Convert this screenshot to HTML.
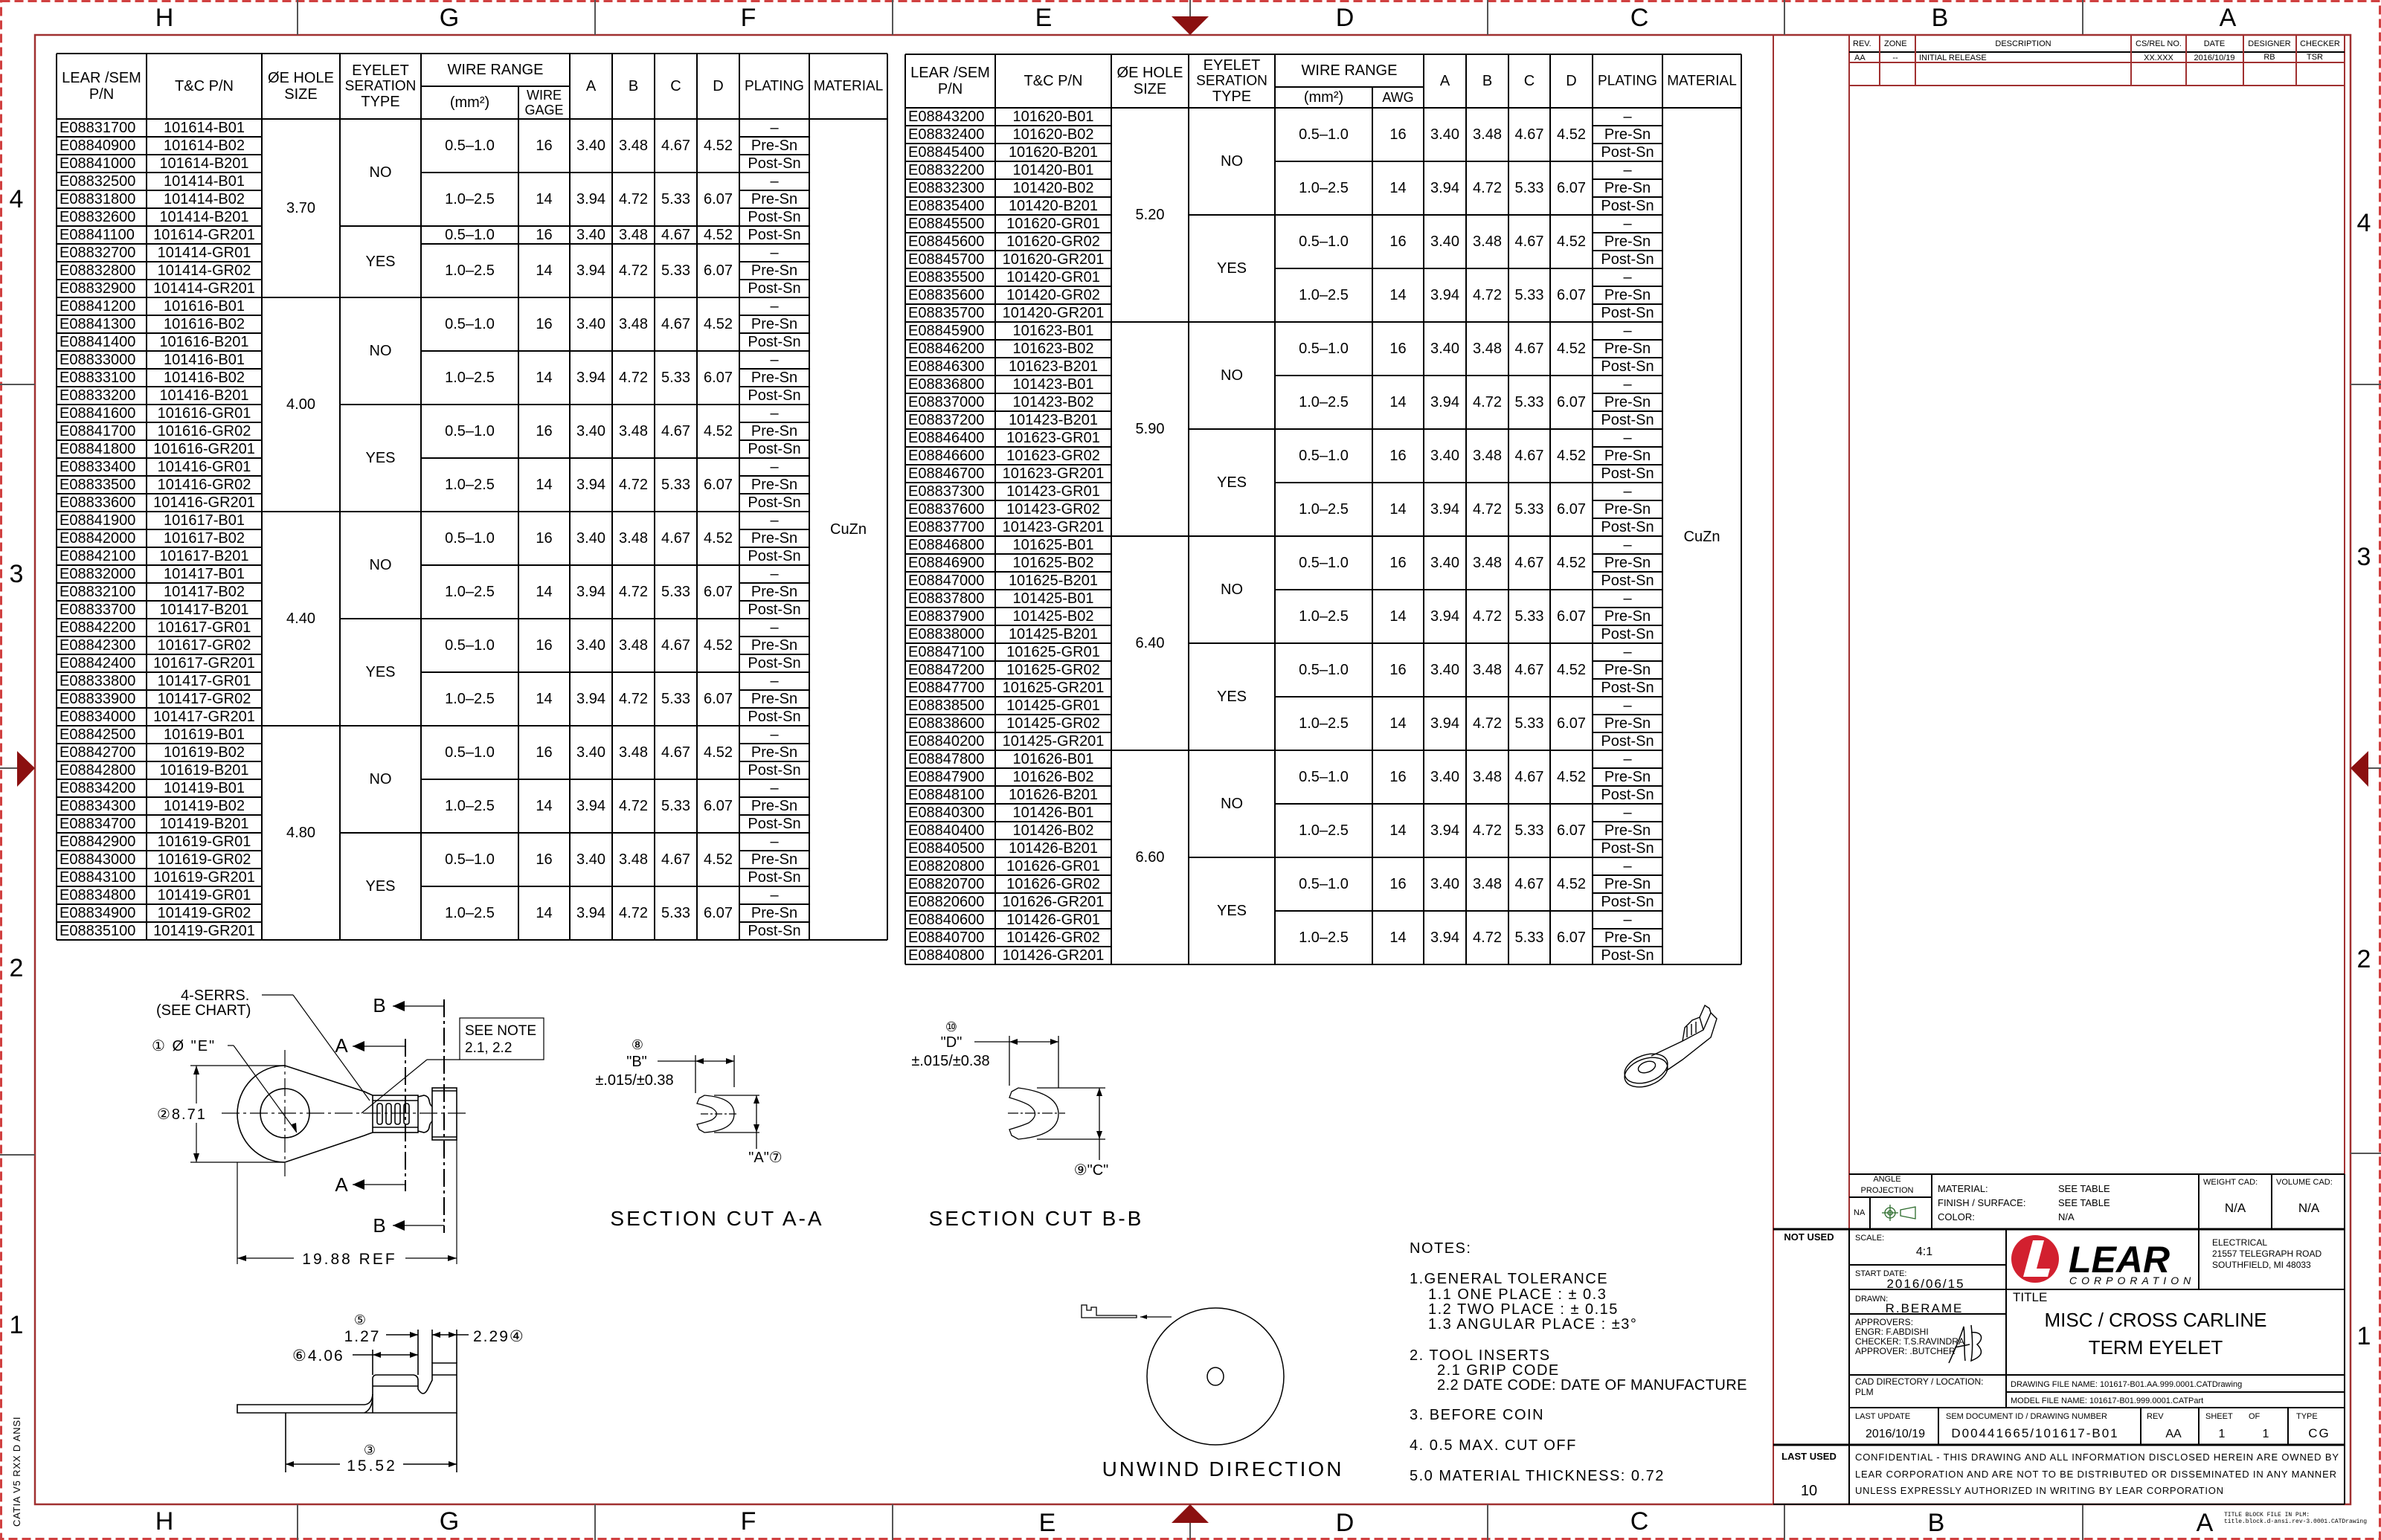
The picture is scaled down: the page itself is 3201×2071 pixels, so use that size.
<!DOCTYPE html>
<html><head><meta charset="utf-8"><style>
html,body{margin:0;padding:0;background:#fff}
svg{display:block}
text{font-family:"Liberation Sans",sans-serif;fill:#000}
.t{font-size:20px}
.c{text-anchor:middle}
.m{dominant-baseline:central}
.z{font-size:34px;text-anchor:middle;dominant-baseline:central}
.s{font-size:11px}
.tb{font-size:13px}
</style></head><body>
<svg id="sv" width="3201" height="2071" viewBox="0 0 3201 2071" xmlns="http://www.w3.org/2000/svg">
<!-- outer dashed border -->
<rect x="1.5" y="1.5" width="3198" height="2068" fill="none" stroke="#d04040" stroke-width="3" stroke-dasharray="12,6"/>
<!-- inner border -->
<rect x="47" y="47" width="3113" height="1976" fill="none" stroke="#a03030" stroke-width="2.5"/>
<g stroke="#555" stroke-width="2">
<line x1="400" y1="0" x2="400" y2="47"/><line x1="800" y1="0" x2="800" y2="47"/><line x1="1200" y1="0" x2="1200" y2="47"/><line x1="1600" y1="0" x2="1600" y2="47"/><line x1="2000" y1="0" x2="2000" y2="47"/><line x1="2399" y1="0" x2="2399" y2="47"/><line x1="2800" y1="0" x2="2800" y2="47"/>
<line x1="400" y1="2023" x2="400" y2="2071"/><line x1="800" y1="2023" x2="800" y2="2071"/><line x1="1200" y1="2023" x2="1200" y2="2071"/><line x1="1600" y1="2023" x2="1600" y2="2071"/><line x1="2000" y1="2023" x2="2000" y2="2071"/><line x1="2399" y1="2023" x2="2399" y2="2071"/><line x1="2800" y1="2023" x2="2800" y2="2071"/>
<line x1="0" y1="517" x2="47" y2="517"/><line x1="0" y1="1553" x2="47" y2="1553"/><line x1="0" y1="1033" x2="47" y2="1033"/>
<line x1="3160" y1="517" x2="3201" y2="517"/><line x1="3160" y1="1551" x2="3201" y2="1551"/><line x1="3160" y1="1033" x2="3201" y2="1033"/>
</g>
<polygon points="1575,22 1625,22 1600,47" fill="#8b1010"/>
<polygon points="1575,2048 1625,2048 1600,2023" fill="#8b1010"/>
<polygon points="23,1010 23,1058 47,1033" fill="#8b1010"/>
<polygon points="3184,1010 3184,1058 3160,1033" fill="#8b1010"/>
<g>
<text class="z" x="221" y="24">H</text><text class="z" x="604" y="24">G</text><text class="z" x="1006" y="24">F</text><text class="z" x="1403" y="24">E</text><text class="z" x="1808" y="24">D</text><text class="z" x="2204" y="24">C</text><text class="z" x="2608" y="24">B</text><text class="z" x="2995" y="24">A</text>
<text class="z" x="221" y="2046">H</text><text class="z" x="604" y="2046">G</text><text class="z" x="1006" y="2046">F</text><text class="z" x="1408" y="2048">E</text><text class="z" x="1808" y="2048">D</text><text class="z" x="2204" y="2046">C</text><text class="z" x="2603" y="2048">B</text><text class="z" x="2964" y="2048">A</text>
<text class="z" x="22" y="268">4</text><text class="z" x="22" y="772">3</text><text class="z" x="22" y="1302">2</text><text class="z" x="22" y="1782">1</text>
<text class="z" x="3178" y="300">4</text><text class="z" x="3178" y="749">3</text><text class="z" x="3178" y="1290">2</text><text class="z" x="3178" y="1797">1</text>
</g>
<text x="0" y="0" transform="translate(27,2053) rotate(-90)" style="font-size:13px;letter-spacing:2.5px" textLength="150">CATIA V5 RXX D ANSI</text>

<g id="tables"></g>

<!-- title column -->
<g stroke="#a03030" stroke-width="2" fill="none">
<line x1="2384" y1="47" x2="2384" y2="2023"/>
<rect x="2486" y="47" width="666" height="1976"/>
<line x1="2486" y1="70" x2="3152" y2="70" stroke="#000"/>
<line x1="2486" y1="84" x2="3152" y2="84"/>
<line x1="2486" y1="115" x2="3152" y2="115"/>
<line x1="2527" y1="47" x2="2527" y2="115"/><line x1="2575" y1="47" x2="2575" y2="115"/><line x1="2865" y1="47" x2="2865" y2="115"/><line x1="2939" y1="47" x2="2939" y2="115"/><line x1="3016" y1="47" x2="3016" y2="115"/><line x1="3087" y1="47" x2="3087" y2="115"/>
</g>
<g style="font-family:'Liberation Mono',monospace;font-size:11px">
<text x="2491" y="62">REV.</text><text x="2533" y="62">ZONE</text><text x="2720" y="62" class="c">DESCRIPTION</text><text x="2902" y="62" class="c">CS/REL NO.</text><text x="2977" y="62" class="c">DATE</text><text x="3051" y="62" class="c">DESIGNER</text><text x="3119" y="62" class="c">CHECKER</text>
<text x="2493" y="81">AA</text><text x="2548" y="81" class="c">--</text><text x="2580" y="81">INITIAL RELEASE</text><text x="2902" y="81" class="c">XX.XXX</text><text x="2977" y="81" class="c">2016/10/19</text><text x="3051" y="80" class="c">RB</text><text x="3112" y="80" class="c">TSR</text>
</g>
<!-- title block -->
<g stroke="#000" stroke-width="2" fill="none">
<line x1="2486" y1="1579" x2="3152" y2="1579"/>
<line x1="2384" y1="1653" x2="3152" y2="1653" stroke-width="3"/>
<line x1="2597" y1="1579" x2="2597" y2="1653"/>
<line x1="2486" y1="1610" x2="2597" y2="1610"/>
<line x1="2514" y1="1610" x2="2514" y2="1653"/>
<line x1="2956" y1="1579" x2="2956" y2="1653"/><line x1="3054" y1="1579" x2="3054" y2="1653"/>
<line x1="2697" y1="1653" x2="2697" y2="1893"/>
<line x1="2486" y1="1701" x2="2697" y2="1701"/>
<line x1="2486" y1="1734" x2="3152" y2="1734"/>
<line x1="2486" y1="1767" x2="2697" y2="1767"/>
<line x1="2956" y1="1653" x2="2956" y2="1734"/>
<line x1="2486" y1="1849" x2="3152" y2="1849"/>
<line x1="2697" y1="1872" x2="3152" y2="1872"/>
<line x1="2486" y1="1893" x2="3152" y2="1893"/>
<line x1="2384" y1="1943" x2="3152" y2="1943" stroke-width="3"/>
<line x1="2606" y1="1893" x2="2606" y2="1943"/><line x1="2878" y1="1893" x2="2878" y2="1943"/><line x1="2956" y1="1893" x2="2956" y2="1943"/><line x1="3076" y1="1893" x2="3076" y2="1943"/>
<line x1="2486" y1="1653" x2="2486" y2="2023"/><line x1="3152" y1="1579" x2="3152" y2="2023"/>
<line x1="2384" y1="2023" x2="3152" y2="2023"/>
</g>
<g class="s">
<text x="2537" y="1589" class="c">ANGLE</text><text x="2537" y="1604" class="c">PROJECTION</text>
<text x="2492" y="1634">NA</text>
<text x="2605" y="1603" style="font-size:13px">MATERIAL:</text><text x="2605" y="1622" style="font-size:13px">FINISH / SURFACE:</text><text x="2605" y="1641" style="font-size:13px">COLOR:</text>
<text x="2767" y="1603" style="font-size:13px">SEE TABLE</text><text x="2767" y="1622" style="font-size:13px">SEE TABLE</text><text x="2767" y="1641" style="font-size:13px">N/A</text>
<text x="2962" y="1593">WEIGHT CAD:</text><text x="3060" y="1593">VOLUME CAD:</text>
<text x="3005" y="1630" class="c" style="font-size:17px">N/A</text><text x="3104" y="1630" class="c" style="font-size:17px">N/A</text>
<text x="2432" y="1668" class="c" style="font-size:13px;font-weight:bold">NOT USED</text>
<text x="2494" y="1668">SCALE:</text><text x="2587" y="1688" class="c" style="font-size:16px">4:1</text>
<text x="2494" y="1716">START DATE:</text><text x="2589" y="1732" class="c" style="font-size:17px;letter-spacing:2px">2016/06/15</text>
<text x="2494" y="1750">DRAWN:</text><text x="2587" y="1765" class="c" style="font-size:17px;letter-spacing:2px">R.BERAME</text>
<text x="2494" y="1782" style="font-size:12px">APPROVERS:</text><text x="2494" y="1795" style="font-size:12px">ENGR: F.ABDISHI</text><text x="2494" y="1808" style="font-size:12px">CHECKER: T.S.RAVINDRA</text><text x="2494" y="1821" style="font-size:12px">APPROVER: .BUTCHER</text>
<text x="2494" y="1862" style="font-size:12px">CAD DIRECTORY / LOCATION:</text><text x="2494" y="1876" style="font-size:12px">PLM</text>
<text x="2703" y="1865">DRAWING FILE NAME: 101617-B01.AA.999.0001.CATDrawing</text>
<text x="2703" y="1887">MODEL FILE NAME: 101617-B01.999.0001.CATPart</text>
<text x="2706" y="1750" style="font-size:17px">TITLE</text>
<text x="2898" y="1784" class="c" style="font-size:26px">MISC / CROSS CARLINE</text>
<text x="2898" y="1821" class="c" style="font-size:26px">TERM EYELET</text>
<text x="2974" y="1675" style="font-size:12px">ELECTRICAL</text><text x="2974" y="1690" style="font-size:12px">21557 TELEGRAPH ROAD</text><text x="2974" y="1705" style="font-size:12px">SOUTHFIELD, MI  48033</text>
<text x="2494" y="1908">LAST UPDATE</text><text x="2548" y="1933" class="c" style="font-size:16px">2016/10/19</text>
<text x="2616" y="1908">SEM DOCUMENT ID / DRAWING NUMBER</text><text x="2736" y="1933" class="c" style="font-size:17px;letter-spacing:2px">D00441665/101617-B01</text>
<text x="2886" y="1908">REV</text><text x="2922" y="1933" class="c" style="font-size:16px">AA</text>
<text x="2965" y="1908">SHEET</text><text x="3023" y="1908">OF</text><text x="2987" y="1933" class="c" style="font-size:16px">1</text><text x="3046" y="1933" class="c" style="font-size:16px">1</text>
<text x="3087" y="1908">TYPE</text><text x="3118" y="1933" class="c" style="font-size:17px;letter-spacing:2px">CG</text>
<text x="2432" y="1963" class="c" style="font-size:13px;font-weight:bold">LAST USED</text>
<text x="2432" y="2011" class="c" style="font-size:20px">10</text>
<text x="2494" y="1964" style="font-size:13px" textLength="650">CONFIDENTIAL - THIS DRAWING AND ALL INFORMATION DISCLOSED HEREIN ARE OWNED BY</text>
<text x="2494" y="1987" style="font-size:13px" textLength="647">LEAR CORPORATION AND ARE NOT TO BE DISTRIBUTED OR DISSEMINATED IN ANY MANNER</text>
<text x="2494" y="2009" style="font-size:13px" textLength="495">UNLESS EXPRESSLY AUTHORIZED IN WRITING BY LEAR CORPORATION</text>
<text x="2990" y="2039" style="font-family:'Liberation Mono',monospace;font-size:8px">TITLE BLOCK FILE IN PLM:</text>
<text x="2990" y="2048" style="font-family:'Liberation Mono',monospace;font-size:8px">title.block.d-ansi.rev-3.0001.CATDrawing</text>
</g>
<!-- projection symbol -->
<g stroke="#2a6a2a" fill="none" stroke-width="1.3">
<circle cx="2541" cy="1631" r="7"/><circle cx="2541" cy="1631" r="3"/><line x1="2530" y1="1631" x2="2552" y2="1631"/><line x1="2541" y1="1620" x2="2541" y2="1642"/>
<polygon points="2555,1627 2575,1623 2575,1639 2555,1635"/>
</g>
<!-- LEAR logo -->
<circle cx="2736" cy="1693" r="32" fill="#d2202f"/>
<polygon points="2733,1668 2748,1668 2738,1706 2756,1706 2753,1717 2720,1717" fill="#fff"/>
<text x="2781" y="1711" style="font-size:50px;font-weight:bold;font-style:italic">LEAR</text>
<text x="2782" y="1727" style="font-size:14px;font-style:italic;letter-spacing:6px">CORPORATION</text>
<path d="M2620,1833 C2628,1815 2636,1798 2640,1784 C2642,1800 2640,1815 2642,1830 M2628,1812 L2648,1808 M2650,1782 C2652,1800 2652,1818 2650,1830 C2660,1826 2670,1820 2658,1808 C2668,1800 2664,1790 2650,1792" fill="none" stroke="#000" stroke-width="1.5"/>

<!-- eyelet top view -->
<g fill="none" stroke="#000" stroke-width="1.6">
<path d="M501,1473 Q494,1470 490,1468 L383,1433 A64,65 0 0 0 383,1563 L490,1527 Q495,1525 501,1523"/>
<circle cx="383" cy="1497" r="33"/>
<rect x="501" y="1473" width="61" height="50"/>
<line x1="501" y1="1480" x2="562" y2="1480"/><line x1="501" y1="1516" x2="562" y2="1516"/>
<rect x="507" y="1484" width="7" height="28" rx="3"/><rect x="519" y="1484" width="7" height="28" rx="3"/><rect x="531" y="1484" width="7" height="28" rx="3"/><rect x="543" y="1484" width="7" height="28" rx="3"/>
<path d="M562,1475 L570,1473 Q576,1474 577,1480 Q578,1486 581,1488"/>
<path d="M562,1521 L570,1523 Q576,1522 577,1516 Q578,1510 581,1508"/>
<rect x="581" y="1463" width="33" height="70"/>
<line x1="581" y1="1467" x2="614" y2="1467"/><line x1="581" y1="1529" x2="614" y2="1529"/>
</g>
<g fill="none" stroke="#000" stroke-width="1.2">
<line x1="298" y1="1497" x2="631" y2="1497" stroke-dasharray="24,5,4,5"/>
<line x1="383" y1="1412" x2="383" y2="1582" stroke-dasharray="24,5,4,5"/>
<line x1="545" y1="1397" x2="545" y2="1602" stroke-dasharray="24,5,4,5" stroke-width="2"/>
<line x1="597" y1="1344" x2="597" y2="1658" stroke-dasharray="24,5,4,5" stroke-width="2"/>
<line x1="528" y1="1353" x2="597" y2="1353"/><line x1="474" y1="1407" x2="545" y2="1407"/><line x1="474" y1="1593" x2="545" y2="1593"/><line x1="528" y1="1648" x2="597" y2="1648"/>
<line x1="256" y1="1433" x2="383" y2="1433"/><line x1="256" y1="1563" x2="383" y2="1563"/>
<line x1="264" y1="1433" x2="264" y2="1484"/><line x1="264" y1="1510" x2="264" y2="1563"/>
<line x1="306" y1="1406" x2="314" y2="1406"/><line x1="314" y1="1406" x2="399" y2="1523"/>
<line x1="352" y1="1338" x2="394" y2="1338"/><line x1="394" y1="1338" x2="497" y2="1480"/>
<rect x="618" y="1369" width="113" height="56"/>
<line x1="618" y1="1425" x2="574" y2="1425"/><line x1="574" y1="1425" x2="486" y2="1497"/>
<line x1="319" y1="1563" x2="319" y2="1700"/><line x1="614" y1="1533" x2="614" y2="1700"/>
<line x1="319" y1="1692" x2="395" y2="1692"/><line x1="545" y1="1692" x2="614" y2="1692"/>
</g>
<g fill="#000">
<polygon points="528,1346 528,1360 512,1353" transform="translate(16,0)"/>
<polygon points="474,1400 474,1414 458,1407" transform="translate(16,0)"/>
<polygon points="474,1586 474,1600 458,1593" transform="translate(16,0)"/>
<polygon points="528,1641 528,1655 512,1648" transform="translate(16,0)"/>
<polygon points="264,1433 260,1445 268,1445"/><polygon points="264,1563 260,1551 268,1551"/>
<polygon points="319,1692 331,1688 331,1696"/><polygon points="614,1692 602,1688 602,1696"/>
<polygon points="399,1523 392,1512 398,1510"/>
</g>
<g class="t" style="font-size:22px">
<text x="510" y="1361" class="c" style="font-size:26px">B</text><text x="459" y="1415" class="c" style="font-size:26px">A</text><text x="459" y="1602" class="c" style="font-size:26px">A</text><text x="510" y="1657" class="c" style="font-size:26px">B</text>
<text x="243" y="1345" style="font-size:20px">4-SERRS.</text><text x="210" y="1365" style="font-size:20px">(SEE CHART)</text>
<text x="204" y="1413" style="font-size:20px;letter-spacing:2px">① Ø "E"</text>
<text x="211" y="1505" style="font-size:20px;letter-spacing:2px">②8.71</text>
<text x="625" y="1392" style="font-size:19px">SEE NOTE</text><text x="625" y="1415" style="font-size:19px">2.1, 2.2</text>
<text x="470" y="1700" class="c" style="font-size:21px;letter-spacing:3px">19.88 REF</text>
</g>

<!-- section A-A -->
<g fill="none" stroke="#000" stroke-width="1.3">
<path d="M940,1477 L947,1473 Q987,1476 987,1498 Q987,1520 947,1523 L940,1519 L937,1512 Q950,1509 957,1506 Q970,1498 957,1490 Q950,1487 937,1484 Z"/>
<line x1="942" y1="1498" x2="992" y2="1498" stroke-dasharray="10,3,3,3"/>
<line x1="935" y1="1419" x2="935" y2="1470"/><line x1="987" y1="1419" x2="987" y2="1462"/>
<line x1="884" y1="1427" x2="987" y2="1427"/>
<line x1="960" y1="1473" x2="1021" y2="1473"/><line x1="960" y1="1523" x2="1021" y2="1523"/>
<line x1="1017" y1="1473" x2="1017" y2="1545"/>
</g>
<g fill="#000"><polygon points="935,1427 946,1423 946,1431"/><polygon points="987,1427 976,1423 976,1431"/><polygon points="1017,1473 1013,1484 1021,1484"/><polygon points="1017,1523 1013,1512 1021,1512"/></g>
<text x="857" y="1411" class="c" style="font-size:18px">⑧</text>
<text x="856" y="1434" class="c" style="font-size:20px">"B"</text>
<text x="853" y="1459" class="c" style="font-size:20px">±.015/±0.38</text>
<text x="1029" y="1563" class="c" style="font-size:20px">"A"⑦</text>
<text x="964" y="1648" class="c" style="font-size:28px;letter-spacing:3px">SECTION CUT A-A</text>

<!-- section B-B -->
<g fill="none" stroke="#000" stroke-width="1.3">
<path d="M1360,1468 L1369,1463 Q1423,1470 1423,1498 Q1423,1527 1369,1532 L1360,1527 L1357,1519 Q1374,1514 1383,1510 Q1400,1498 1383,1486 Q1374,1481 1357,1476 Z"/>
<line x1="1355" y1="1497" x2="1432" y2="1497" stroke-dasharray="14,3,3,3"/>
<line x1="1357" y1="1393" x2="1357" y2="1460"/><line x1="1423" y1="1393" x2="1423" y2="1463"/>
<line x1="1310" y1="1401" x2="1423" y2="1401"/>
<line x1="1394" y1="1463" x2="1486" y2="1463"/><line x1="1394" y1="1532" x2="1486" y2="1532"/>
<line x1="1478" y1="1463" x2="1478" y2="1560"/>
</g>
<g fill="#000"><polygon points="1357,1401 1368,1397 1368,1405"/><polygon points="1423,1401 1412,1397 1412,1405"/><polygon points="1478,1463 1474,1474 1482,1474"/><polygon points="1478,1532 1474,1521 1482,1521"/></g>
<text x="1279" y="1387" class="c" style="font-size:18px">⑩</text>
<text x="1279" y="1408" class="c" style="font-size:20px">"D"</text>
<text x="1278" y="1433" class="c" style="font-size:20px">±.015/±0.38</text>
<text x="1467" y="1580" class="c" style="font-size:20px">⑨"C"</text>
<text x="1393" y="1648" class="c" style="font-size:28px;letter-spacing:3px">SECTION CUT B-B</text>

<!-- isometric -->
<g fill="none" stroke="#000" stroke-width="1.4">
<ellipse cx="2213" cy="1437" rx="30" ry="18" transform="rotate(-20 2213 1437)"/>
<ellipse cx="2213" cy="1442" rx="30" ry="18" transform="rotate(-20 2213 1442)"/>
<ellipse cx="2214" cy="1435" rx="12" ry="7" transform="rotate(-20 2214 1435)"/>
<path d="M2220,1420 L2262,1400 L2290,1385 L2300,1362 L2308,1370 L2300,1395 L2262,1425 L2240,1440"/>
<path d="M2262,1400 L2265,1382 L2275,1372 L2285,1368 L2290,1385"/>
<path d="M2268,1395 L2268,1380 M2274,1392 L2274,1377 M2280,1389 L2280,1374"/>
<path d="M2285,1368 L2292,1352 L2298,1356 L2300,1362"/>
</g>

<!-- side view -->
<g fill="none" stroke="#000" stroke-width="1.6">
<path d="M319,1889 L490,1889 Q500,1888 501,1875 L501,1853 Q502,1849 506,1849 L556,1849 Q562,1850 562,1856 L562,1868 Q569,1880 575,1868 L581,1856 L581,1833 L614,1833 L614,1900 L319,1900 Z"/>
<line x1="501" y1="1864" x2="562" y2="1864"/><line x1="581" y1="1849" x2="614" y2="1849"/>
<line x1="501" y1="1875" x2="501" y2="1900"/>
<path d="M490,1900 Q500,1895 501,1880"/>
<line x1="562" y1="1788" x2="562" y2="1849"/><line x1="581" y1="1788" x2="581" y2="1833"/><line x1="614" y1="1788" x2="614" y2="1833"/>
<line x1="501" y1="1815" x2="501" y2="1849"/>
<line x1="519" y1="1795" x2="562" y2="1795"/><line x1="581" y1="1795" x2="630" y2="1795"/>
<line x1="474" y1="1822" x2="562" y2="1822"/>
<line x1="384" y1="1900" x2="384" y2="1980"/><line x1="614" y1="1900" x2="614" y2="1980"/>
<line x1="384" y1="1969" x2="457" y2="1969"/><line x1="542" y1="1969" x2="614" y2="1969"/>
</g>
<g fill="#000"><polygon points="562,1795 551,1791 551,1799"/><polygon points="581,1795 592,1791 592,1799"/><polygon points="614,1795 603,1791 603,1799"/><polygon points="501,1822 512,1818 512,1826"/><polygon points="562,1822 551,1818 551,1826"/><polygon points="384,1969 395,1965 395,1973"/><polygon points="614,1969 603,1965 603,1973"/></g>
<text x="484" y="1781" class="c" style="font-size:18px">⑤</text>
<text x="487" y="1804" class="c" style="font-size:21px;letter-spacing:2px">1.27</text>
<text x="636" y="1804" style="font-size:21px;letter-spacing:2px">2.29④</text>
<text x="393" y="1830" style="font-size:21px;letter-spacing:2px">⑥4.06</text>
<text x="497" y="1956" class="c" style="font-size:18px">③</text>
<text x="500" y="1978" class="c" style="font-size:21px;letter-spacing:3px">15.52</text>

<!-- unwind -->
<circle cx="1634" cy="1851" r="92" fill="none" stroke="#000" stroke-width="1.5"/>
<ellipse cx="1634" cy="1851" rx="11" ry="12" fill="none" stroke="#000" stroke-width="1.5"/>
<g fill="none" stroke="#000" stroke-width="1.3">
<path d="M1454,1772 L1454,1755 L1461,1755 L1461,1762 L1467,1762 L1467,1758 L1474,1758 L1474,1769 L1528,1769 L1528,1772 Z"/>
<line x1="1533" y1="1771" x2="1575" y2="1771"/>
</g>
<polygon points="1533,1771 1542,1768 1542,1774" fill="#000"/>
<text x="1644" y="1985" class="c" style="font-size:28px;letter-spacing:3px">UNWIND DIRECTION</text>
<g style="font-size:20px;letter-spacing:1.5px">
<text x="1895" y="1685">NOTES:</text>
<text x="1895" y="1726">1.GENERAL TOLERANCE</text>
<text x="1920" y="1747">1.1 ONE PLACE : ± 0.3</text>
<text x="1920" y="1767">1.2 TWO PLACE : ± 0.15</text>
<text x="1920" y="1787">1.3 ANGULAR PLACE : ±3°</text>
<text x="1895" y="1829">2. TOOL INSERTS</text>
<text x="1932" y="1849">2.1 GRIP CODE</text>
<text x="1932" y="1869" textLength="418">2.2 DATE CODE: DATE OF MANUFACTURE</text>
<text x="1895" y="1909">3. BEFORE COIN</text>
<text x="1895" y="1950">4. 0.5 MAX. CUT OFF</text>
<text x="1895" y="1991">5.0 MATERIAL THICKNESS: 0.72</text>
</g>
</svg>
<script>
(function(){
var NS="http://www.w3.org/2000/svg",G=document.getElementById("tables");
function L(x1,y1,x2,y2){var e=document.createElementNS(NS,"line");e.setAttribute("x1",x1);e.setAttribute("y1",y1);e.setAttribute("x2",x2);e.setAttribute("y2",y2);e.setAttribute("stroke","#000");e.setAttribute("stroke-width","2");G.appendChild(e);}
function T(x,y,s,anchor,fs){var e=document.createElementNS(NS,"text");e.setAttribute("x",x);e.setAttribute("y",y);e.setAttribute("class","t m"+(anchor?" c":""));if(fs)e.setAttribute("style","font-size:"+fs+"px");e.textContent=s;G.appendChild(e);}
var P=["–","Pre-Sn","Post-Sn"];
var D16=["0.5–1.0","16","3.40","3.48","4.67","4.52"],D14=["1.0–2.5","14","3.94","4.72","5.33","6.07"];
function build(X,top,sub,hb,rh,gage,groups,matY){
 var nrows=0;groups.forEach(function(g){g.e.forEach(function(e){e.w.forEach(function(w){nrows+=w.r.length;});});});
 var bot=hb+nrows*rh;
 L(X[0],top,X[12],top);L(X[0],hb,X[12],hb);L(X[0],bot,X[12],bot);
 for(var i=0;i<13;i++){ if(i==5){L(X[5],sub,X[5],bot);} else L(X[i],top,X[i],bot);}
 L(X[4],sub,X[6],sub);
 var cx=function(i){return (X[i]+X[i+1])/2;};
 var hm=(top+hb)/2;
 T(cx(0),hm-11,"LEAR /SEM",1);T(cx(0),hm+11,"P/N",1);
 T(cx(1),hm,"T&C P/N",1);
 T(cx(2),hm-11,"ØE HOLE",1);T(cx(2),hm+11,"SIZE",1);
 T(cx(3),hm-21,"EYELET",1);T(cx(3),hm,"SERATION",1,19);T(cx(3),hm+21,"TYPE",1);
 T((X[4]+X[6])/2,(top+sub)/2,"WIRE RANGE",1);
 T(cx(4),(sub+hb)/2,"(mm²)",1);
 if(gage){T(cx(5),(sub+hb)/2-10,"WIRE",1,18);T(cx(5),(sub+hb)/2+10,"GAGE",1,18);} else T(cx(5),(sub+hb)/2,"AWG",1,18);
 ["A","B","C","D"].forEach(function(s,k){T(cx(6+k),hm,s,1);});
 T(cx(10),hm,"PLATING",1,19);T(cx(11),hm,"MATERIAL",1,19);
 var y=hb;
 groups.forEach(function(g,gi){
  var gy=y;
  g.e.forEach(function(e,ei){
   var ey=y;
   e.w.forEach(function(w,wi){
    var wy=y;
    w.r.forEach(function(r,ri){
     T(X[0]+4,y+rh/2,r[0]);T(cx(1),y+rh/2,r[1],1);T(cx(10),y+rh/2,P[r[2]],1);
     y+=rh;
     if(y<bot){
      var lvl = (ri<w.r.length-1)?0:(wi<e.w.length-1)?1:(ei<g.e.length-1)?2:3;
      L(X[0],y,X[2],y);
      var xs = lvl==3?X[2]:lvl==2?X[3]:lvl==1?X[4]:X[10];
      L(xs,y,X[11],y);
     }
    });
    var d=w.d,m=(wy+y)/2;
    T(cx(4),m,d[0],1);T(cx(5),m,d[1],1);for(var k=0;k<4;k++)T(cx(6+k),m,d[2+k],1);
   });
   T(cx(3),(ey+y)/2,e.n,1);
  });
  T(cx(2),(gy+y)/2,g.h,1);
 });
 T(cx(11),matY,"CuZn",1);
}
function grp(h,a,b){ // a: prefix numbers 6-digit T&C base (16xx) ; b: lear list 12
 return h;
}
function std(h,t1,t2,le){
 var s=["-B01","-B02","-B201"],gs=["-GR01","-GR02","-GR201"];
 function rows(base,suf,off){return suf.map(function(x,i){return [le[off+i],base+x,i];});}
 return {h:h,e:[
  {n:"NO",w:[{d:D16,r:rows(t1,s,0)},{d:D14,r:rows(t2,s,3)}]},
  {n:"YES",w:[{d:D16,r:rows(t1,gs,6)},{d:D14,r:rows(t2,gs,9)}]}]};
}
var left=[
 {h:"3.70",e:[
  {n:"NO",w:[{d:D16,r:[["E08831700","101614-B01",0],["E08840900","101614-B02",1],["E08841000","101614-B201",2]]},
             {d:D14,r:[["E08832500","101414-B01",0],["E08831800","101414-B02",1],["E08832600","101414-B201",2]]}]},
  {n:"YES",w:[{d:D16,r:[["E08841100","101614-GR201",2]]},
              {d:D14,r:[["E08832700","101414-GR01",0],["E08832800","101414-GR02",1],["E08832900","101414-GR201",2]]}]}]},
 std("4.00","101616","101416",["E08841200","E08841300","E08841400","E08833000","E08833100","E08833200","E08841600","E08841700","E08841800","E08833400","E08833500","E08833600"]),
 std("4.40","101617","101417",["E08841900","E08842000","E08842100","E08832000","E08832100","E08833700","E08842200","E08842300","E08842400","E08833800","E08833900","E08834000"]),
 std("4.80","101619","101419",["E08842500","E08842700","E08842800","E08834200","E08834300","E08834700","E08842900","E08843000","E08843100","E08834800","E08834900","E08835100"])
];
var right=[
 std("5.20","101620","101420",["E08843200","E08832400","E08845400","E08832200","E08832300","E08835400","E08845500","E08845600","E08845700","E08835500","E08835600","E08835700"]),
 std("5.90","101623","101423",["E08845900","E08846200","E08846300","E08836800","E08837000","E08837200","E08846400","E08846600","E08846700","E08837300","E08837600","E08837700"]),
 std("6.40","101625","101425",["E08846800","E08846900","E08847000","E08837800","E08837900","E08838000","E08847100","E08847200","E08847700","E08838500","E08838600","E08840200"]),
 std("6.60","101626","101426",["E08847800","E08847900","E08848100","E08840300","E08840400","E08840500","E08820800","E08820700","E08820600","E08840600","E08840700","E08840800"])
];
build([76,197,352,457,566,697,766,823,880,937,994,1088,1193],72,116,160,24,true,left,712);
build([1217,1338,1494,1598,1714,1845,1914,1971,2028,2084,2141,2235,2341],73,117,145,24,false,right,722);
})();
</script>
</body></html>
